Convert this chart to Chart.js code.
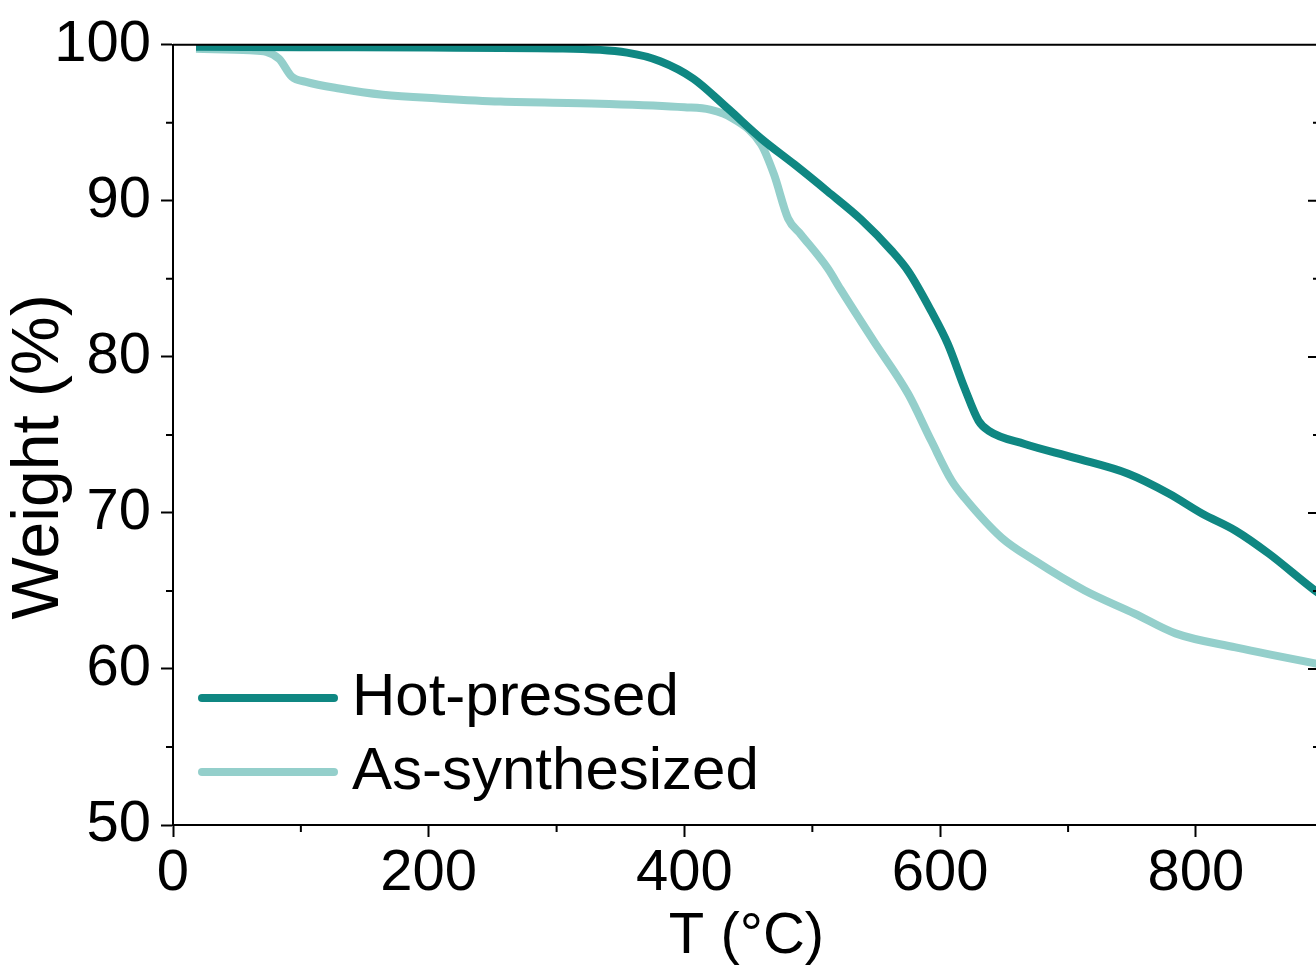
<!DOCTYPE html>
<html>
<head>
<meta charset="utf-8">
<script src="https://cdn.jsdelivr.net/npm/chart.js@4.4.1/dist/chart.umd.min.js"></script>
<style>
  html, body { margin: 0; padding: 0; overflow: hidden; background: #fff; }
  #wrap { position: absolute; left: 0; top: 0; width: 1330px; height: 978px; }
</style>
</head>
<body>
<div id="wrap"><canvas id="tga"></canvas></div>
<script>
// TGA curves (T in °C, weight in %)
const hotPressedT = [18, 100, 200, 300, 355, 381, 407, 434, 460, 486, 512, 538, 562, 575, 593, 606, 619, 630, 638, 666, 705, 747, 779, 805, 831, 857, 893, 897];
const hotPressedW = [99.87, 99.85, 99.82, 99.77, 99.5, 98.95, 97.83, 95.91, 93.99, 92.33, 90.6, 88.81, 86.8, 85.49, 82.93, 80.82, 78.01, 75.9, 75.26, 74.42, 73.53, 72.51, 71.23, 69.95, 68.86, 67.39, 65.03, 64.8];

const asSynthT = [18, 60, 73, 83, 93, 104, 130, 164, 210, 256, 334, 400, 420, 438, 460, 470, 481, 491, 512, 522, 548, 575, 593, 609, 619, 648, 674, 713, 752, 784, 831, 893, 897];
const asSynthW = [99.74, 99.65, 99.55, 99.1, 97.95, 97.63, 97.2, 96.8, 96.55, 96.36, 96.23, 96.0, 95.84, 95.27, 93.61, 91.69, 88.87, 87.85, 85.68, 84.34, 81.01, 77.62, 74.62, 72.06, 70.97, 68.41, 66.94, 65.03, 63.55, 62.28, 61.38, 60.36, 60.3];

const xTicks = [0, 200, 400, 600, 800];
const xMinor = [100, 300, 500, 700];
const yTicks = [50, 60, 70, 80, 90, 100];
const yMinor = [55, 65, 75, 85, 95];

const FONT = "'Liberation Sans', Arial, sans-serif";
const toPoints = (xs, ys) => xs.map((x, i) => ({ x, y: ys[i] }));

Chart.defaults.font.family = FONT;
Chart.defaults.font.size = 58;
Chart.defaults.color = "#000";

// top/right frame, minor ticks, inward ticks of the right axis, y title
const frame = {
  id: "frame",
  afterDraw(chart) {
    const { ctx, chartArea: a, scales: { x, y } } = chart;
    ctx.save();
    ctx.strokeStyle = "#000";
    ctx.lineWidth = 2;
    ctx.beginPath();
    ctx.moveTo(a.left, a.top);
    ctx.lineTo(a.right, a.top);
    ctx.lineTo(a.right, a.bottom);
    yMinor.forEach((v) => {
      const p = y.getPixelForValue(v);
      ctx.moveTo(a.left - 7, p);
      ctx.lineTo(a.left, p);
      ctx.moveTo(a.right - 7, p);
      ctx.lineTo(a.right, p);
    });
    yTicks.forEach((v) => {
      const p = y.getPixelForValue(v);
      ctx.moveTo(a.right - 12, p);
      ctx.lineTo(a.right, p);
    });
    xMinor.forEach((v) => {
      const p = x.getPixelForValue(v);
      ctx.moveTo(p, a.bottom);
      ctx.lineTo(p, a.bottom + 7);
    });
    ctx.stroke();

    // y axis title, a little larger and lower than the scale title would be
    ctx.translate(40, (a.top + a.bottom) / 2 + 22);
    ctx.rotate(-Math.PI / 2);
    ctx.fillStyle = "#000";
    ctx.font = "66px " + FONT;
    ctx.textAlign = "center";
    ctx.textBaseline = "middle";
    ctx.fillText("Weight (%)", 0, 0);
    ctx.restore();
  },
};

// legend in the lower left corner of the plot
const insideLegend = {
  id: "insideLegend",
  afterDraw(chart) {
    const { ctx, chartArea: a } = chart;
    ctx.save();
    chart.data.datasets.forEach((ds, i) => {
      const yy = a.bottom - 127 + i * 74;
      ctx.strokeStyle = ds.borderColor;
      ctx.lineWidth = 8;
      ctx.lineCap = "round";
      ctx.beginPath();
      ctx.moveTo(a.left + 29, yy);
      ctx.lineTo(a.left + 161, yy);
      ctx.stroke();
      ctx.fillStyle = "#000";
      ctx.font = "60px " + FONT;
      ctx.textBaseline = "middle";
      ctx.fillText(ds.label, a.left + 179, yy);
    });
    ctx.restore();
  },
};

new Chart(document.getElementById("tga"), {
  type: "line",
  data: {
    datasets: [
      {
        label: "Hot-pressed",
        data: toPoints(hotPressedT, hotPressedW),
        borderColor: "#0f8782",
        borderWidth: 8,
        pointRadius: 0,
        cubicInterpolationMode: "monotone",
      },
      {
        label: "As-synthesized",
        data: toPoints(asSynthT, asSynthW),
        borderColor: "#94cfcb",
        borderWidth: 8,
        pointRadius: 0,
        cubicInterpolationMode: "monotone",
      },
    ],
  },
  plugins: [frame, insideLegend],
  options: {
    responsive: true,
    maintainAspectRatio: false,
    animation: false,
    layout: { padding: { left: 0, top: 43, right: 10, bottom: 0 } },
    plugins: { legend: { display: false }, tooltip: { enabled: false } },
    scales: {
      x: {
        type: "linear",
        min: 0,
        max: 897,
        afterFit(s) { s.height = 153; },
        afterBuildTicks(s) { s.ticks = xTicks.map((v) => ({ value: v })); },
        grid: { drawOnChartArea: false, tickLength: 12, tickWidth: 2, tickColor: "#000" },
        border: { display: true, color: "#000", width: 2 },
        ticks: { padding: 2, maxRotation: 0, autoSkip: false },
        title: { display: true, text: "T (°C)", padding: { top: 0, bottom: 6 } },
      },
      y: {
        type: "linear",
        min: 50,
        max: 100,
        afterFit(s) { s.width = 173; },
        afterBuildTicks(s) { s.ticks = yTicks.map((v) => ({ value: v })); },
        grid: { drawOnChartArea: false, tickLength: 12, tickWidth: 2, tickColor: "#000" },
        border: { display: true, color: "#000", width: 2 },
        ticks: { padding: 10 },
        title: { display: false },
      },
    },
  },
});
</script>
</body>
</html>
